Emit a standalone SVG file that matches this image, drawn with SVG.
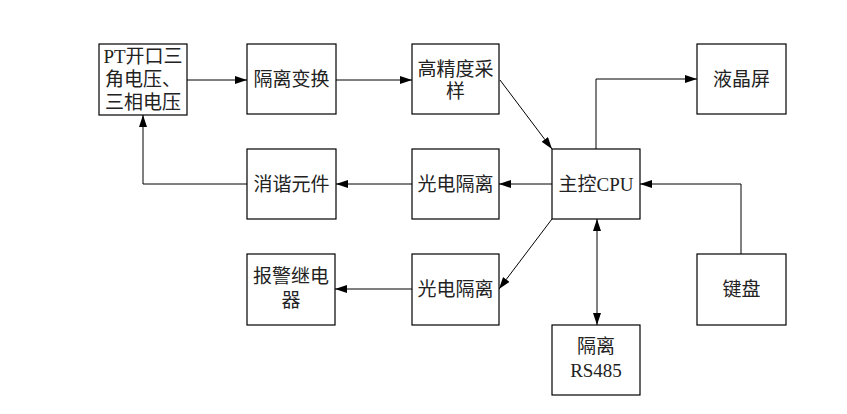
<svg xmlns="http://www.w3.org/2000/svg" width="847" height="414" viewBox="0 0 847 414">
<style>
.box{fill:#fff;stroke:#000;stroke-width:1.2}
.t{font-family:"Liberation Serif","Noto Sans CJK SC",serif;font-size:19px;fill:#222;text-anchor:middle;dominant-baseline:central}
.c{fill:none;stroke:#000;stroke-width:1}
</style>
<defs>
<marker id="ah" viewBox="0 0 12 8" refX="12" refY="4" markerWidth="12" markerHeight="8" markerUnits="userSpaceOnUse" orient="auto-start-reverse">
<path d="M0,0 L12,4 L0,8 Z" fill="#000"/>
</marker>
</defs>
<rect width="847" height="414" fill="#fff"/>
<g id="connectors">
<line class="c" x1="187" y1="80" x2="247" y2="80" marker-end="url(#ah)"/>
<line class="c" x1="336" y1="80" x2="412" y2="80" marker-end="url(#ah)"/>
<line class="c" x1="500" y1="80" x2="552" y2="149" marker-end="url(#ah)"/>
<polyline class="c" points="596,149 596,79 697,79" marker-end="url(#ah)"/>
<polyline class="c" points="741,254 741,184 640,184" marker-end="url(#ah)"/>
<line class="c" x1="552" y1="184" x2="499" y2="184" marker-end="url(#ah)"/>
<line class="c" x1="412" y1="184" x2="336" y2="184" marker-end="url(#ah)"/>
<polyline class="c" points="247,184 143,184 143,115" marker-end="url(#ah)"/>
<line class="c" x1="552" y1="219" x2="499" y2="289" marker-end="url(#ah)"/>
<line class="c" x1="412" y1="289" x2="335" y2="289" marker-end="url(#ah)"/>
<line class="c" x1="597" y1="219" x2="597" y2="325" marker-start="url(#ah)" marker-end="url(#ah)"/>
</g>
<g id="pt"><rect class="box" x="99" y="44" width="88" height="71"/>
<text class="t" x="143" y="56">PT开口三</text><text class="t" x="143" y="79">角电压、</text><text class="t" x="143" y="102">三相电压</text></g>
<g id="glbh"><rect class="box" x="247" y="44" width="89" height="70"/><text class="t" x="291.5" y="79">隔离变换</text></g>
<g id="gjd"><rect class="box" x="412" y="44" width="87" height="70"/><text class="t" x="455.5" y="69">高精度采</text><text class="t" x="455.5" y="91">样</text></g>
<g id="yjp"><rect class="box" x="697" y="44" width="89" height="70"/><text class="t" x="741.5" y="79">液晶屏</text></g>
<g id="xx"><rect class="box" x="247" y="149" width="89" height="70"/><text class="t" x="291.5" y="184">消谐元件</text></g>
<g id="gd1"><rect class="box" x="412" y="149" width="87" height="70"/><text class="t" x="455.5" y="184">光电隔离</text></g>
<g id="cpu"><rect class="box" x="552" y="149" width="88" height="70"/><text class="t" x="596" y="184">主控CPU</text></g>
<g id="bj"><rect class="box" x="247" y="254" width="88" height="71"/><text class="t" x="291" y="276">报警继电</text><text class="t" x="291" y="300">器</text></g>
<g id="gd2"><rect class="box" x="412" y="254" width="87" height="71"/><text class="t" x="455.5" y="289">光电隔离</text></g>
<g id="jp"><rect class="box" x="697" y="254" width="89" height="71"/><text class="t" x="741.5" y="289">键盘</text></g>
<g id="rs"><rect class="box" x="552" y="325" width="88" height="70"/><text class="t" x="596" y="346">隔离</text><text class="t" x="596" y="370">RS485</text></g>
</svg>
